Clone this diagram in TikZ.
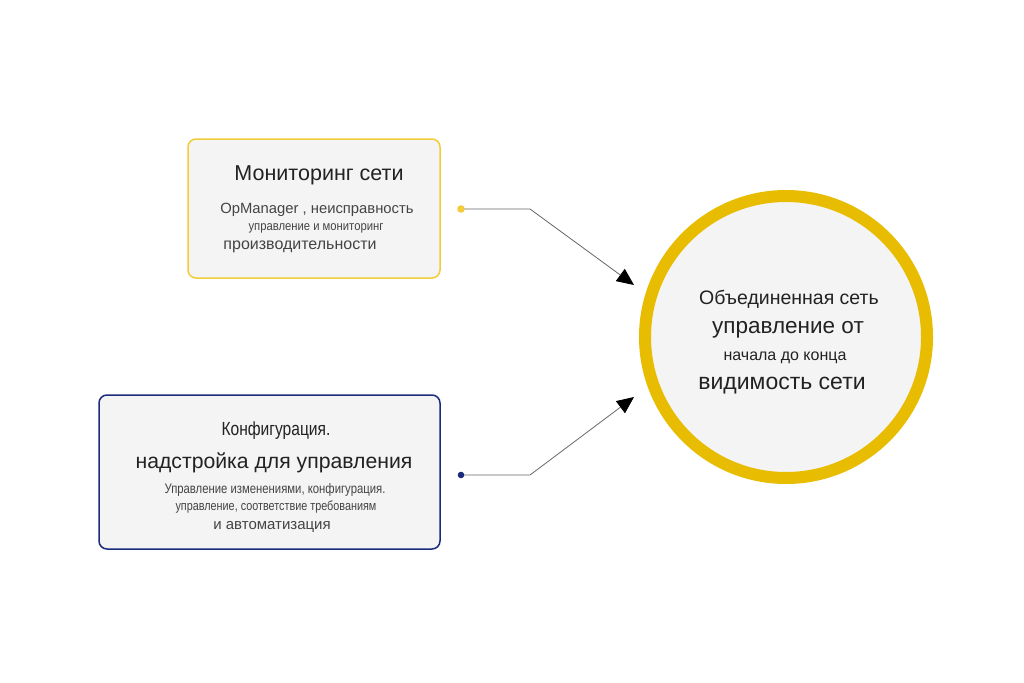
\documentclass[tikz,border=0pt]{standalone}
\usepackage{fontspec}
\setmainfont{Liberation Sans}
\newfontfamily\narrowfont[FakeStretch=0.82]{Liberation Sans}
\newfontfamily\semifont[FakeStretch=0.88]{Liberation Sans}
\usetikzlibrary{arrows.meta,positioning}
\definecolor{Ink}{HTML}{222222}
\definecolor{Soft}{HTML}{444444}
\definecolor{Paper}{HTML}{F4F4F4}
\definecolor{Gold}{HTML}{E8BC00}
\definecolor{LightGold}{HTML}{F2CC3A}
\definecolor{Navy}{HTML}{1B2B7E}
\definecolor{Wire}{HTML}{666666}

\begin{document}
\begin{tikzpicture}[x=1pt,y=-1pt,
    box/.style={rounded corners=8pt,fill=Paper,line width=1.5pt},
    t/.style={text=Ink,inner sep=0pt,anchor=base},
    s/.style={text=Soft,inner sep=0pt,anchor=base},
    a/.style={draw=Wire,line width=0.8pt,-{Triangle[length=17pt,width=15pt,color=black]}}
  ]
    \useasboundingbox[fill=white] (0,0) rectangle (1024,682);
    % boxes and circle
    \draw[box,draw=LightGold] (188,139) rectangle (440,278);
    \draw[box,draw=Navy] (99,395) rectangle (440,549);
    \node[circle,fill=Paper,draw=Gold,line width=12pt,minimum size=282pt,inner sep=0pt] (goal) at (786,337) {};
    % texts
    \node[t,font=\fontsize{21.5}{24}\selectfont] (mon) at (319,180) {Мониторинг сети};
    \node[s,font=\fontsize{14.8}{16}\selectfont] (mon1) at (317,213) {OpManager , неисправность};
    \node[s,font=\semifont\fontsize{12.8}{14}\selectfont] (mon2) at (316,230) {управление и мониторинг};
    \node[s,font=\fontsize{16}{18}\selectfont] (mon3) at (300,249) {производительности};
    \node[t,font=\narrowfont\fontsize{19}{22}\selectfont] (conf) at (276,435) {Конфигурация.};
    \node[t,font=\fontsize{21.2}{24}\selectfont] (conf1) at (274,468) {надстройка для управления};
    \node[s,font=\narrowfont\fontsize{13.8}{15}\selectfont] (conf2) at (275,493) {Управление изменениями, конфигурация.};
    \node[s,font=\narrowfont\fontsize{13.2}{15}\selectfont] (conf3) at (276,510) {управление, соответствие требованиям};
    \node[s,font=\fontsize{15}{17}\selectfont] (conf4) at (272,529) {и автоматизация};
    \node[t,font=\fontsize{19.5}{22}\selectfont] (g1) at (789,304) {Объединенная сеть};
    \node[t,font=\fontsize{22.5}{26}\selectfont] (g2) at (788,333) {управление от};
    \node[t,font=\fontsize{16}{18}\selectfont] (g3) at (785,360) {начала до конца};
    \node[t,font=\fontsize{23}{26}\selectfont] (g4) at (782,389) {видимость сети};
    % connectors
    \coordinate (d1) at (461,209); \coordinate (d2) at (461,475);
    \coordinate (in1) at (634,285); \coordinate (in2) at (634,397);
    \draw[a] (d1) -- (530,209) -- (in1);
    \draw[a] (d2) -- (530,475) -- (in2);
    \fill[LightGold] (d1) circle (3.8pt);
    \fill[Navy] (d2) circle (3.3pt);
  \end{tikzpicture}
\end{document}
